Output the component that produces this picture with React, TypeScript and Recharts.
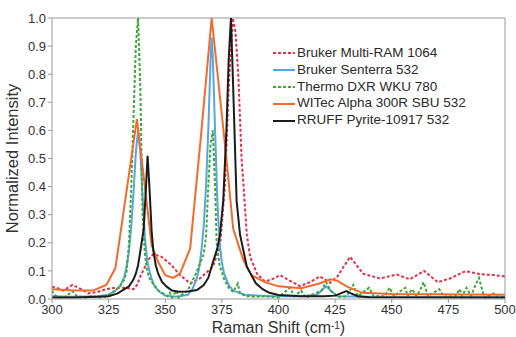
import React from "react";
import { LineChart, Line, XAxis, YAxis, ReferenceLine } from "recharts";

const xTicks = [300, 325, 350, 375, 400, 425, 450, 475, 500];
const yTicks = [0, 0.1, 0.2, 0.3, 0.4, 0.5, 0.6, 0.7, 0.8, 0.9, 1.0];

const brukerMultiRam: [number, number][] = [
  [300, 0.044], [302, 0.04], [305, 0.03], [309, 0.05], [313, 0.035], [316, 0.02], [320, 0.025],
  [324, 0.035], [328, 0.04], [332, 0.04], [336, 0.035], [337.5, 0.05], [339, 0.08], [342.5, 0.14],
  [344.7, 0.16], [348.4, 0.15], [352.8, 0.12], [356.5, 0.085], [361, 0.056], [365.3, 0.073],
  [371, 0.115], [374.2, 0.186], [376.4, 0.41], [378, 0.75], [379.8, 1.0], [381, 0.95], [382.3, 0.79],
  [383.7, 0.5], [384.5, 0.41], [386, 0.23], [387.5, 0.15], [390.5, 0.09], [394, 0.062], [397, 0.07],
  [400.7, 0.085], [405, 0.065], [409.5, 0.046], [414, 0.06], [418.3, 0.08], [422.7, 0.058], [426, 0.08],
  [431.6, 0.15], [437.4, 0.09], [444.8, 0.073], [452.2, 0.087], [458, 0.07], [464.3, 0.1], [470.3, 0.06],
  [475.7, 0.073], [482.5, 0.099], [489.5, 0.088], [495, 0.085], [500, 0.08],
];

const brukerSenterra: [number, number][] = [
  [300, 0.01], [310, 0.008], [320, 0.01], [325, 0.015], [328, 0.03], [330, 0.045], [332, 0.08],
  [333, 0.12], [334, 0.17], [335, 0.26], [336, 0.38], [337, 0.52], [338, 0.6], [339, 0.52],
  [340, 0.36], [341, 0.22], [342, 0.14], [343, 0.1], [344, 0.072], [345, 0.05], [347, 0.028],
  [350, 0.012], [355, 0.008], [360, 0.015], [362, 0.035], [364, 0.075], [365, 0.11], [366, 0.175],
  [367, 0.26], [368, 0.4], [369, 0.6], [370, 0.85], [370.5, 0.93], [371, 0.86], [372, 0.6],
  [373, 0.35], [374, 0.2], [375, 0.13], [376, 0.09], [378, 0.05], [380, 0.03], [385, 0.015],
  [395, 0.01], [410, 0.01], [417, 0.015], [419, 0.03], [421, 0.045], [423, 0.03], [426, 0.01],
  [440, 0.008], [500, 0.006],
];

const thermoDxr: [number, number][] = [
  [300, 0.03], [301, 0.015], [303, 0.005], [306, 0.008], [309, 0.028], [311, 0.01], [315, 0.005],
  [318, 0.012], [320, 0.005], [324, 0.01], [326, 0.02], [328, 0.03], [330, 0.045], [332, 0.07],
  [333, 0.1], [334, 0.2], [335, 0.4], [336, 0.65], [337, 0.9], [338, 1.0], [339, 0.75], [340, 0.3],
  [341, 0.16], [342, 0.1], [343, 0.075], [345, 0.05], [347, 0.03], [349, 0.02], [351, 0.01],
  [352, 0.022], [353, 0.005], [355, 0.03], [356, 0.005], [358, 0.02], [360, 0.03], [361, 0.05],
  [363, 0.08], [365, 0.12], [367, 0.16], [368, 0.22], [369, 0.4], [370, 0.55], [371, 0.6],
  [372, 0.4], [372.7, 0.2], [374, 0.12], [376, 0.07], [378, 0.04], [380, 0.025], [382, 0.055],
  [383, 0.02], [386, 0.01], [390, 0.008], [395, 0.01], [400, 0.005], [405, 0.04], [407, 0.01],
  [410, 0.03], [412, 0.005], [419, 0.03], [421, 0.06], [423, 0.03], [426, 0.008], [430, 0.01],
  [433, 0.05], [435, 0.01], [440, 0.04], [442, 0.01], [447, 0.01], [449, 0.04], [451, 0.01],
  [455, 0.035], [456, 0.04], [457, 0.01], [459, 0.035], [461, 0.01], [463, 0.04], [464, 0.06],
  [466, 0.01], [471, 0.035], [473, 0.008], [478, 0.01], [480, 0.035], [481, 0.01], [483, 0.04],
  [485, 0.01], [487, 0.05], [488.5, 0.075], [490, 0.03], [491, 0.005], [495, 0.02], [497, 0.005],
  [500, 0.008],
];

const witecAlpha: [number, number][] = [
  [300, 0.035], [310, 0.03], [318, 0.03], [324, 0.05], [328, 0.11], [337.5, 0.64], [341, 0.4],
  [344, 0.19], [347, 0.13], [350, 0.085], [353.5, 0.075], [356.5, 0.09], [361, 0.18], [366, 0.6],
  [370.5, 1.0], [377, 0.5], [380, 0.25], [384.4, 0.14], [388, 0.085], [394, 0.06], [400, 0.045],
  [410, 0.038], [418, 0.055], [423, 0.07], [426, 0.065], [430, 0.045], [437, 0.022], [450, 0.018],
  [500, 0.015],
];

const rruffPyrite: [number, number][] = [
  [300, 0.005], [310, 0.005], [320, 0.008], [325, 0.01], [329, 0.02], [332, 0.035], [334, 0.045],
  [336, 0.07], [337, 0.09], [338, 0.12], [339, 0.17], [340.5, 0.25], [341.5, 0.4], [342.2, 0.51],
  [343, 0.4], [344, 0.24], [344.7, 0.175], [345.8, 0.12], [346.9, 0.09], [348.5, 0.062],
  [350.6, 0.044], [353, 0.03], [356, 0.026], [360, 0.027], [364, 0.032], [367, 0.05], [369, 0.075],
  [371, 0.13], [373, 0.18], [374.2, 0.23], [375.6, 0.35], [377, 0.6], [378, 0.85], [379, 1.0],
  [380, 0.75], [381.5, 0.35], [383, 0.23], [386, 0.115], [390, 0.056], [393, 0.035], [396, 0.022],
  [400, 0.014], [410, 0.01], [420, 0.01], [425, 0.012], [428, 0.022], [430, 0.028], [432, 0.02],
  [435, 0.01], [440, 0.006], [500, 0.005],
];

const toPts = (arr: [number, number][]) => arr.map(([x, y]) => ({ x, y }));

const series = [
  { name: "Bruker Multi-RAM 1064", data: toPts(brukerMultiRam), color: "#e0304a", dash: "3 2" },
  { name: "Bruker Senterra 532", data: toPts(brukerSenterra), color: "#5aa5dc", dash: undefined },
  { name: "Thermo DXR WKU 780", data: toPts(thermoDxr), color: "#3ca83a", dash: "3 2" },
  { name: "WITec Alpha 300R SBU 532", data: toPts(witecAlpha), color: "#f26a2c", dash: undefined },
  { name: "RRUFF Pyrite-10917 532", data: toPts(rruffPyrite), color: "#1b1b1b", dash: undefined },
];

const FONT = "'Liberation Sans', Arial, Helvetica, sans-serif";

const LegendBox = () => (
  <div
    style={{
      position: "absolute",
      left: 273,
      top: 45,
      fontFamily: FONT,
      fontSize: 13.5,
      color: "#2a2a2a",
      lineHeight: "16.8px",
    }}
  >
    {series.map((s) => (
      <div key={s.name} style={{ display: "flex", alignItems: "center", whiteSpace: "nowrap" }}>
        <svg width={23} height={6} style={{ marginRight: 1 }}>
          <line x1={0} y1={3} x2={22} y2={3} stroke={s.color} strokeWidth={2} strokeDasharray={s.dash} />
        </svg>
        <span>{s.name}</span>
      </div>
    ))}
  </div>
);

export default function App() {
  return (
    <div style={{ position: "absolute", left: 0, top: 0, width: 516, height: 337, background: "#fff" }}>
      <LineChart width={516} height={337} margin={{ top: 18, right: 11, bottom: 0, left: 0 }}>
        <XAxis
          dataKey="x"
          type="number"
          domain={[300, 500]}
          ticks={xTicks}
          interval={0}
          allowDataOverflow
          height={38}
          stroke="#999"
          tickSize={4}
          tick={{ fill: "#333", fontSize: 13, fontFamily: FONT }}
          label={{
            content: (props: any) => {
              const vb = props.viewBox || {};
              const cx = (vb.x ?? 52) + (vb.width ?? 453) / 2;
              return (
                <text x={cx} y={333} textAnchor="middle" fill="#333" fontSize={16} fontFamily={FONT}>
                  Raman Shift (cm
                  <tspan dy={-4.5} fontSize={10}>-1</tspan>
                  <tspan dy={4.5}>)</tspan>
                </text>
              );
            },
          }}
        />
        <YAxis
          type="number"
          domain={[0, 1]}
          ticks={yTicks}
          interval={0}
          allowDataOverflow
          width={52}
          stroke="#999"
          tickSize={4}
          tickFormatter={(v: number) => v.toFixed(1)}
          tick={{ fill: "#333", fontSize: 13, fontFamily: FONT }}
          label={{
            content: (props: any) => {
              const vb = props.viewBox || {};
              const cy = (vb.y ?? 18) + (vb.height ?? 281) / 2;
              return (
                <text
                  x={14}
                  y={cy}
                  transform={`rotate(-90 14 ${cy})`}
                  textAnchor="middle"
                  dominantBaseline="middle"
                  fill="#333"
                  fontSize={16.5}
                  fontFamily={FONT}
                >
                  Normalized Intensity
                </text>
              );
            },
          }}
        />
        <ReferenceLine y={1} stroke="#999" strokeWidth={1} />
        <ReferenceLine x={500} stroke="#999" strokeWidth={1} />
        {series.map((s) => (
          <Line
            key={s.name}
            data={s.data}
            dataKey="y"
            name={s.name}
            type="linear"
            stroke={s.color}
            strokeWidth={2}
            strokeDasharray={s.dash}
            dot={false}
            activeDot={false}
            isAnimationActive={false}
          />
        ))}
      </LineChart>
      <LegendBox />
    </div>
  );
}
